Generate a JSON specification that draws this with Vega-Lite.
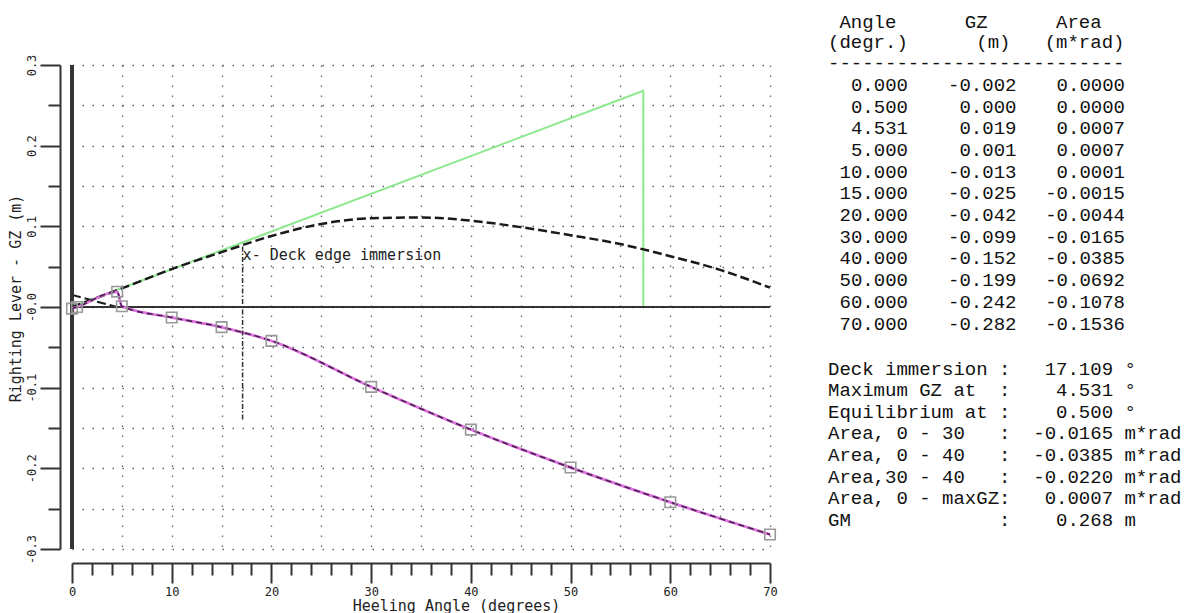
{
  "$schema": "https://vega.github.io/schema/vega-lite/v6.json",
  "autosize": {"type": "none"},
  "width": 698,
  "height": 484,
  "padding": {"left": 72, "top": 65, "right": 417, "bottom": 64},
  "background": "white",
  "config": {
    "view": {"stroke": null},
    "font": "DejaVu Sans Mono",
    "locale": {"number": {"decimal": ".", "thousands": ",", "grouping": [3], "currency": ["", ""], "minus": "-"}}
  },
  "datasets": {
    "gz": [
      {"angle": 0, "gz": -0.002, "area": 0.0},
      {"angle": 0.5, "gz": 0.0, "area": 0.0},
      {"angle": 4.531, "gz": 0.019, "area": 0.0007},
      {"angle": 5, "gz": 0.001, "area": 0.0007},
      {"angle": 10, "gz": -0.013, "area": 0.0001},
      {"angle": 15, "gz": -0.025, "area": -0.0015},
      {"angle": 20, "gz": -0.042, "area": -0.0044},
      {"angle": 30, "gz": -0.099, "area": -0.0165},
      {"angle": 40, "gz": -0.152, "area": -0.0385},
      {"angle": 50, "gz": -0.199, "area": -0.0692},
      {"angle": 60, "gz": -0.242, "area": -0.1078},
      {"angle": 70, "gz": -0.282, "area": -0.1536}
    ],
    "black": [
      {"angle": 0, "gz": 0.0},
      {"angle": 5, "gz": 0.023},
      {"angle": 10, "gz": 0.047},
      {"angle": 15, "gz": 0.068},
      {"angle": 20, "gz": 0.088},
      {"angle": 25, "gz": 0.103},
      {"angle": 30, "gz": 0.110},
      {"angle": 35, "gz": 0.111},
      {"angle": 40, "gz": 0.107},
      {"angle": 45, "gz": 0.099},
      {"angle": 50, "gz": 0.089},
      {"angle": 55, "gz": 0.078},
      {"angle": 60, "gz": 0.063},
      {"angle": 65, "gz": 0.046},
      {"angle": 70, "gz": 0.024}
    ],
    "black0": [
      {"angle": 0, "gz": 0.015},
      {"angle": 4.5, "gz": 0.0}
    ],
    "gm": [
      {"angle": 0, "gz": 0.0},
      {"angle": 57.296, "gz": 0.268},
      {"angle": 57.296, "gz": 0.0}
    ],
    "deck": [{"angle": 17.109, "label": "x- Deck edge immersion"}],
    "header": [
      {"text": "\u200b\u00a0Angle\u00a0\u00a0\u00a0\u00a0\u00a0\u00a0GZ\u00a0\u00a0\u00a0\u00a0\u00a0\u00a0Area"},
      {"text": "(degr.)\u00a0\u00a0\u00a0\u00a0\u00a0\u00a0(m)\u00a0\u00a0\u00a0(m*rad)"},
      {"text": "--------------------------"}
    ],
    "stats": [
      {"text": "Deck\u00a0immersion\u00a0:\u00a0\u00a0\u00a017.109\u00a0°"},
      {"text": "Maximum\u00a0GZ\u00a0at\u00a0\u00a0:\u00a0\u00a0\u00a0\u00a04.531\u00a0°"},
      {"text": "Equilibrium\u00a0at\u00a0:\u00a0\u00a0\u00a0\u00a00.500\u00a0°"},
      {"text": "Area,\u00a00\u00a0-\u00a030\u00a0\u00a0\u00a0:\u00a0\u00a0-0.0165\u00a0m*rad"},
      {"text": "Area,\u00a00\u00a0-\u00a040\u00a0\u00a0\u00a0:\u00a0\u00a0-0.0385\u00a0m*rad"},
      {"text": "Area,30\u00a0-\u00a040\u00a0\u00a0\u00a0:\u00a0\u00a0-0.0220\u00a0m*rad"},
      {"text": "Area,\u00a00\u00a0-\u00a0maxGZ:\u00a0\u00a0\u00a00.0007\u00a0m*rad"},
      {"text": "GM\u00a0\u00a0\u00a0\u00a0\u00a0\u00a0\u00a0\u00a0\u00a0\u00a0\u00a0\u00a0\u00a0:\u00a0\u00a0\u00a0\u00a00.268\u00a0m"}
    ]
  },
  "layer": [
    {
      "layer": [
        {
          "data": {"name": "gz"},
          "mark": {"type": "line", "color": "#dd77dd", "strokeWidth": 2.5, "interpolate": "monotone"},
          "encoding": {
            "x": {
              "field": "angle", "type": "quantitative",
              "scale": {"domain": [0, 70], "nice": false, "zero": false},
              "axis": {
                "title": "Heeling Angle (degrees)",
                "values": [0,1,2,3,4,5,6,7,8,9,10,11,12,13,14,15,16,17,18,19,20,21,22,23,24,25,26,27,28,29,30,31,32,33,34,35,36,37,38,39,40,41,42,43,44,45,46,47,48,49,50,51,52,53,54,55,56,57,58,59,60,61,62,63,64,65,66,67,68,69,70],
                "tickCount": 71,
                "ticks": true,
                "offset": 14,
                "domainColor": "#333", "domainWidth": 2,
                "tickWidth": 2,
                "tickSize": {"condition": {"test": "datum.value % 10 == 0", "value": 20}, "value": 12},
                "tickColor": {"condition": {"test": "datum.value % 2 == 0", "value": "#333"}, "value": "transparent"},
                "grid": true, "gridColor": "#666", "gridDash": [1.5, 8.5], "gridWidth": 1.3,
                "gridOpacity": {"condition": {"test": "datum.value % 5 == 0", "value": 1}, "value": 0},
                "labelExpr": "datum.value % 10 == 0 ? format(datum.value, 'd') : ''",
                "labelFlush": false, "labelOverlap": false, "labelPadding": 3,
                "labelFontSize": 12, "labelColor": "#222", "labelFont": "DejaVu Sans Mono",
                "titleFont": "DejaVu Sans Mono", "titleFontSize": 15, "titleFontWeight": "normal", "titleColor": "#222",
                "titleX": 384, "titleY": 42, "titleAlign": "center", "titleBaseline": "middle"
              }
            },
            "y": {
              "field": "gz", "type": "quantitative",
              "scale": {"domain": [-0.3, 0.3], "nice": false, "zero": false},
              "axis": {
                "title": "Righting Lever - GZ (m)",
                "values": [-0.3,-0.25,-0.2,-0.15,-0.1,-0.05,0,0.05,0.1,0.15,0.2,0.25,0.3],
                "offset": 12,
                "domainColor": "#333", "domainWidth": 2,
                "tickColor": "#333", "tickWidth": 2,
                "tickSize": {"condition": {"test": "abs(round(datum.value*100)) % 10 == 0", "value": 20}, "value": 12},
                "grid": true, "gridColor": "#666", "gridDash": [1.5, 8.5], "gridWidth": 1.3,
                "labelExpr": "abs(round(datum.value*100)) % 10 == 0 ? (round(datum.value*100) == 0 ? '-0.0' : (datum.value < 0 ? '-' : '') + format(abs(datum.value), '.1f')) : ''",
                "labelAngle": 270, "labelAlign": "center", "labelBaseline": "bottom", "labelPadding": 2,
                "labelFlush": false, "labelOverlap": false,
                "labelFontSize": 12, "labelColor": "#222", "labelFont": "DejaVu Sans Mono",
                "titleFont": "DejaVu Sans Mono", "titleFontSize": 15, "titleFontWeight": "normal", "titleColor": "#222",
                "titleAngle": 270, "titleX": -45, "titleY": 233, "titleAlign": "center", "titleBaseline": "middle"
              }
            }
          }
        },
        {
          "data": {"name": "gm"},
          "mark": {"type": "line", "color": "#8ee88e", "strokeWidth": 2},
          "encoding": {
            "x": {"field": "angle", "type": "quantitative"},
            "y": {"field": "gz", "type": "quantitative"},
            "order": {"value": null}
          }
        },
        {
          "data": {"name": "black"},
          "mark": {"type": "line", "color": "#1a1a1a", "strokeWidth": 2.5, "strokeDash": [9, 4], "interpolate": "monotone"},
          "encoding": {
            "x": {"field": "angle", "type": "quantitative"},
            "y": {"field": "gz", "type": "quantitative"}
          }
        },
        {
          "data": {"name": "black0"},
          "mark": {"type": "line", "color": "#1a1a1a", "strokeWidth": 2, "strokeDash": [9, 4]},
          "encoding": {
            "x": {"field": "angle", "type": "quantitative"},
            "y": {"field": "gz", "type": "quantitative"}
          }
        },
        {
          "data": {"name": "gz"},
          "mark": {"type": "rule", "color": "#333", "strokeWidth": 2.5},
          "encoding": {"x": {"datum": 0, "type": "quantitative"}}
        },
        {
          "data": {"name": "gz"},
          "mark": {"type": "rule", "color": "#333", "strokeWidth": 2},
          "encoding": {"y": {"datum": 0, "type": "quantitative"}}
        },
        {
          "data": {"name": "gz"},
          "mark": {"type": "line", "color": "#dd77dd", "strokeWidth": 2.5, "interpolate": "monotone"},
          "encoding": {
            "x": {"field": "angle", "type": "quantitative"},
            "y": {"field": "gz", "type": "quantitative"}
          }
        },
        {
          "data": {"name": "gz"},
          "mark": {"type": "line", "color": "#4b1d55", "strokeWidth": 1.6, "strokeDash": [6, 4], "interpolate": "monotone"},
          "encoding": {
            "x": {"field": "angle", "type": "quantitative"},
            "y": {"field": "gz", "type": "quantitative"}
          }
        },
        {
          "data": {"name": "gz"},
          "mark": {"type": "point", "shape": "square", "size": 110, "filled": false, "color": "#999", "strokeWidth": 1.6, "opacity": 1},
          "encoding": {
            "x": {"field": "angle", "type": "quantitative"},
            "y": {"field": "gz", "type": "quantitative"}
          }
        },
        {
          "data": {"name": "deck"},
          "mark": {"type": "rule", "color": "#333", "strokeWidth": 1.5, "strokeDash": [5, 2, 1.5, 2]},
          "encoding": {
            "x": {"field": "angle", "type": "quantitative"},
            "y": {"datum": 0.075, "type": "quantitative"},
            "y2": {"datum": -0.14}
          }
        },
        {
          "data": {"name": "deck"},
          "mark": {"type": "text", "align": "left", "baseline": "middle", "font": "DejaVu Sans Mono", "fontSize": 15, "color": "#222"},
          "encoding": {
            "x": {"field": "angle", "type": "quantitative"},
            "y": {"datum": 0.064, "type": "quantitative"},
            "text": {"field": "label"}
          }
        }
      ]
    },
    {
      "layer": [
        {
          "data": {"name": "gz"},
          "mark": {"type": "text", "align": "right", "baseline": "middle", "font": "Liberation Mono", "fontSize": 19, "color": "#111"},
          "encoding": {
            "x": {"datum": 7, "type": "quantitative", "scale": {"domain": [0, 26], "range": [756, 1053], "nice": false, "zero": false}, "axis": null},
            "y": {"field": "angle", "type": "ordinal", "scale": {"type": "point", "range": [20, 258.5], "padding": 0}, "axis": null},
            "text": {"field": "angle", "type": "quantitative", "format": ".3f"}
          }
        },
        {
          "data": {"name": "gz"},
          "mark": {"type": "text", "align": "right", "baseline": "middle", "font": "Liberation Mono", "fontSize": 19, "color": "#111"},
          "encoding": {
            "x": {"datum": 16.5, "type": "quantitative", "scale": {"domain": [0, 26], "range": [756, 1053], "nice": false, "zero": false}, "axis": null},
            "y": {"field": "angle", "type": "ordinal", "scale": {"type": "point", "range": [20, 258.5], "padding": 0}, "axis": null},
            "text": {"field": "gz", "type": "quantitative", "format": ".3f"}
          }
        },
        {
          "data": {"name": "gz"},
          "mark": {"type": "text", "align": "right", "baseline": "middle", "font": "Liberation Mono", "fontSize": 19, "color": "#111"},
          "encoding": {
            "x": {"datum": 26, "type": "quantitative", "scale": {"domain": [0, 26], "range": [756, 1053], "nice": false, "zero": false}, "axis": null},
            "y": {"field": "angle", "type": "ordinal", "scale": {"type": "point", "range": [20, 258.5], "padding": 0}, "axis": null},
            "text": {"field": "area", "type": "quantitative", "format": ".4f"}
          }
        },
        {
          "data": {"name": "header"},
          "mark": {"type": "text", "align": "left", "baseline": "middle", "font": "Liberation Mono", "fontSize": 19, "color": "#111"},
          "encoding": {
            "x": {"datum": 0, "type": "quantitative", "scale": {"domain": [0, 26], "range": [756, 1053], "nice": false, "zero": false}, "axis": null},
            "y": {"field": "text", "type": "ordinal", "sort": null, "scale": {"type": "point", "range": [-43.3, -2], "padding": 0}, "axis": null},
            "text": {"field": "text"}
          }
        },
        {
          "data": {"name": "stats"},
          "mark": {"type": "text", "align": "left", "baseline": "middle", "font": "Liberation Mono", "fontSize": 19, "color": "#111"},
          "encoding": {
            "x": {"datum": 0, "type": "quantitative", "scale": {"domain": [0, 26], "range": [756, 1053], "nice": false, "zero": false}, "axis": null},
            "y": {"field": "text", "type": "ordinal", "sort": null, "scale": {"type": "point", "range": [303.5, 455], "padding": 0}, "axis": null},
            "text": {"field": "text"}
          }
        }
      ],
      "resolve": {"scale": {"y": "independent"}}
    }
  ],
  "resolve": {"scale": {"x": "independent", "y": "independent"}}
}
